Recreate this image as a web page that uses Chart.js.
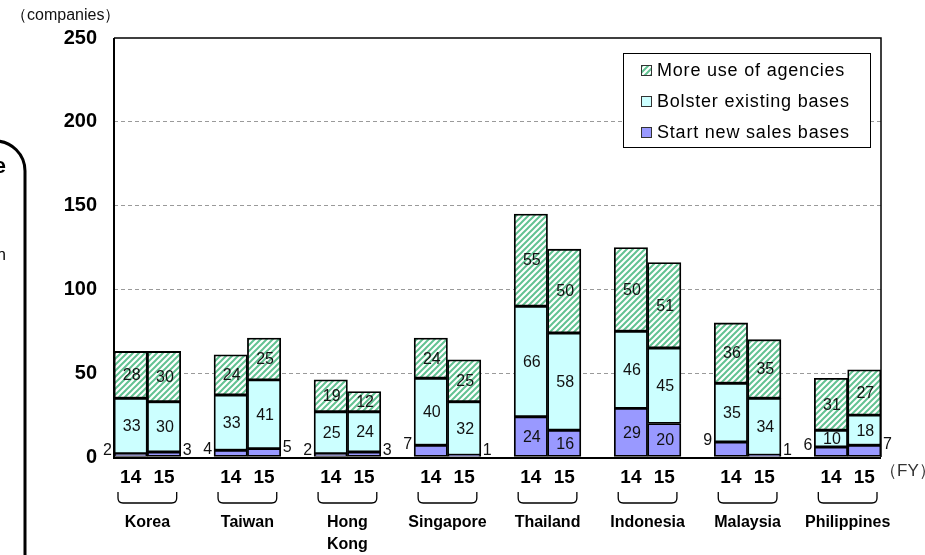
<!DOCTYPE html>
<html><head><meta charset="utf-8">
<script src="https://cdn.jsdelivr.net/npm/chart.js@4"></script>
<style>
html,body{margin:0;padding:0;background:#fff;}
#wrap{position:relative;width:925px;height:555px;overflow:hidden;background:#fff;}
canvas{position:absolute;left:0;top:0;}
</style></head><body>
<div id="wrap"><canvas id="c" width="925" height="555"></canvas></div>
<script>
// ---- data ----
const countries = [['Korea'],['Taiwan'],['Hong','Kong'],['Singapore'],['Thailand'],['Indonesia'],['Malaysia'],['Philippines']];
const years = ['14','15'];
const startNew = [2,3, 4,5, 2,3, 7,1, 24,16, 29,20, 9,1, 6,7];
const bolster  = [33,30, 33,41, 25,24, 40,32, 66,58, 46,45, 35,34, 10,18];
const agencies = [28,30, 24,25, 19,12, 24,25, 55,50, 50,51, 36,35, 31,27];
const yTicks = [0,50,100,150,200,250];
const seriesNames = ['Start new sales bases','Bolster existing bases','More use of agencies'];
const yUnit = '（companies）';
const xUnit = '（FY）';

const FONT = "'Liberation Sans', Arial, sans-serif";

// build category slots: two year bars per country, one empty gap slot between countries
const slotLabels = [], slotIndex = [];
countries.forEach((c, i) => {
  years.forEach((y, k) => { slotIndex.push(slotLabels.length); slotLabels.push(y); });
  if (i < countries.length - 1) slotLabels.push('');
});
function toSlots(arr) {
  const out = slotLabels.map(() => null);
  arr.forEach((v, j) => { out[slotIndex[j]] = v; });
  return out;
}

// hatch pattern
function makeHatch() {
  const p = document.createElement('canvas');
  p.width = 6; p.height = 6;
  const g = p.getContext('2d');
  g.fillStyle = '#ffffff'; g.fillRect(0, 0, 6, 6);
  g.strokeStyle = '#62c292'; g.lineWidth = 2;
  g.beginPath();
  g.moveTo(-1, 7); g.lineTo(7, -1);
  g.moveTo(-4, 4); g.lineTo(4, -4);
  g.moveTo(2, 10); g.lineTo(10, 2);
  g.stroke();
  return document.getElementById('c').getContext('2d').createPattern(p, 'repeat');
}
const hatch = makeHatch();
const fills = ['#9999ff', '#ccffff', hatch];

const extras = {
  id: 'extras',
  afterDatasetsDraw(chart) {
    const ctx = chart.ctx;
    ctx.save();
    ctx.fillStyle = '#111';
    ctx.font = '16px ' + FONT;
    ctx.textBaseline = 'middle';
    chart.data.datasets.forEach((ds, d) => {
      const meta = chart.getDatasetMeta(d);
      meta.data.forEach((el, j) => {
        const v = ds.data[j];
        if (v === null || v === undefined) return;
        if (v >= 10) {
          ctx.textAlign = 'center';
          ctx.fillText(String(v), el.x + 1, (el.y + el.base) / 2 + 1);
        } else {
          const isFirst = slotLabels[j] === years[0];
          ctx.textAlign = isFirst ? 'right' : 'left';
          const x = isFirst ? el.x - el.width / 2 - 2 : el.x + el.width / 2 + 2;
          ctx.fillText(String(v), x, Math.min(el.y - 1, el.base - 6));
        }
      });
    });
    ctx.restore();
  },
  afterDraw(chart) {
    const ctx = chart.ctx;
    const a = chart.chartArea;
    const xs = chart.scales.x;
    ctx.save();
    // frame lines
    ctx.strokeStyle = '#000';
    ctx.lineWidth = 1.5;
    ctx.beginPath();
    ctx.moveTo(a.left, a.top); ctx.lineTo(a.right, a.top); ctx.lineTo(a.right, a.bottom);
    ctx.stroke();
    ctx.lineWidth = 2;
    ctx.beginPath();
    ctx.moveTo(a.left, a.top); ctx.lineTo(a.left, a.bottom + 1); ctx.lineTo(a.right, a.bottom + 1);
    ctx.stroke();

    // brackets and country names
    const slotW = xs.getPixelForValue(1) - xs.getPixelForValue(0);
    countries.forEach((c, i) => {
      const i0 = slotIndex[i * 2], i1 = slotIndex[i * 2 + 1];
      const x0 = xs.getPixelForValue(i0) - slotW / 2 + 4;
      const x1 = xs.getPixelForValue(i1) + slotW / 2 - 4;
      const y0 = a.bottom + 35, y1 = a.bottom + 46;
      ctx.strokeStyle = '#000'; ctx.lineWidth = 1.3;
      ctx.beginPath();
      ctx.moveTo(x0, y0); ctx.lineTo(x0, y1 - 5);
      ctx.quadraticCurveTo(x0, y1, x0 + 5, y1);
      ctx.lineTo(x1 - 5, y1);
      ctx.quadraticCurveTo(x1, y1, x1, y1 - 5);
      ctx.lineTo(x1, y0);
      ctx.stroke();
      ctx.fillStyle = '#000';
      ctx.font = 'bold 16px ' + FONT;
      ctx.textAlign = 'center'; ctx.textBaseline = 'middle';
      const cx = (x0 + x1) / 2;
      c.forEach((line, k) => ctx.fillText(line, cx, a.bottom + 66 + k * 22));
    });

    // FY unit
    ctx.font = '17px ' + FONT;
    ctx.fillStyle = '#333';
    ctx.textAlign = 'left'; ctx.textBaseline = 'middle';
    ctx.fillText(xUnit, a.right - 1, a.bottom + 14);

    // y unit
    ctx.fillStyle = '#111';
    ctx.font = '16px ' + FONT;
    ctx.fillText(yUnit, 11, 16);

    // legend
    const lx = 623, ly = 53, lw = 247, lh = 94;
    ctx.fillStyle = '#fff';
    ctx.fillRect(lx, ly, lw, lh);
    ctx.strokeStyle = '#000'; ctx.lineWidth = 1;
    ctx.strokeRect(lx + 0.5, ly + 0.5, lw, lh);
    const order = [2, 1, 0];
    order.forEach((d, r) => {
      const cy = ly + 17 + r * 31;
      ctx.fillStyle = fills[d];
      ctx.fillRect(641, cy - 5, 11, 11);
      ctx.strokeStyle = '#333'; ctx.lineWidth = 1;
      ctx.strokeRect(641.5, cy - 4.5, 10, 10);
      ctx.fillStyle = '#000';
      ctx.font = '18px ' + FONT;
      ctx.textAlign = 'left'; ctx.textBaseline = 'middle';
      if ('letterSpacing' in ctx) ctx.letterSpacing = '0.8px';
      ctx.fillText(chart.data.datasets[d].label, 657, cy + 1);
      if ('letterSpacing' in ctx) ctx.letterSpacing = '0px';
    });

    // neighbouring panel fragment at the left edge
    ctx.strokeStyle = '#000'; ctx.lineWidth = 3;
    ctx.beginPath();
    ctx.moveTo(-20, 141);
    ctx.arcTo(25, 141, 25, 175, 30);
    ctx.lineTo(25, 600);
    ctx.stroke();
    ctx.fillStyle = '#000';
    ctx.textAlign = 'right'; ctx.textBaseline = 'alphabetic';
    ctx.font = 'bold 22px ' + FONT;
    ctx.fillText('e', 6, 173);
    ctx.font = '16px ' + FONT;
    ctx.fillText('n', 6, 260);
    ctx.restore();
  }
};

new Chart(document.getElementById('c'), {
  type: 'bar',
  data: {
    labels: slotLabels,
    datasets: [
      { label: seriesNames[0], data: toSlots(startNew), backgroundColor: fills[0] },
      { label: seriesNames[1], data: toSlots(bolster), backgroundColor: fills[1] },
      { label: seriesNames[2], data: toSlots(agencies), backgroundColor: fills[2] }
    ].map(ds => Object.assign(ds, {
      borderColor: '#000', borderWidth: 1.8, borderSkipped: false,
      barPercentage: 1, categoryPercentage: 1
    }))
  },
  options: {
    responsive: false,
    animation: false,
    devicePixelRatio: 1,
    layout: { padding: { left: 0, top: 38, right: 44, bottom: 0 } },
    plugins: { legend: { display: false }, tooltip: { enabled: false } },
    scales: {
      x: {
        stacked: true,
        grid: { display: false, drawTicks: false },
        border: { display: false },
        ticks: {
          autoSkip: false, maxRotation: 0, padding: 9, color: '#000',
          font: { family: FONT, size: 19, weight: 'bold' }
        },
        afterFit(s) { s.height = 98; }
      },
      y: {
        stacked: true, min: 0, max: 250,
        afterBuildTicks(s) { s.ticks = yTicks.map(v => ({ value: v })); },
        grid: {
          drawTicks: false,
          color: c => (c.tick && (c.tick.value === 0 || c.tick.value === 250)) ? 'rgba(0,0,0,0)' : '#9a9a9a',
          lineWidth: 1
        },
        border: { display: false, dash: [4, 3] },
        ticks: {
          padding: 17, color: '#000',
          font: { family: FONT, size: 20, weight: 'bold' }
        },
        afterFit(s) { s.width = 114; }
      }
    }
  },
  plugins: [extras]
});
</script>
</body></html>
